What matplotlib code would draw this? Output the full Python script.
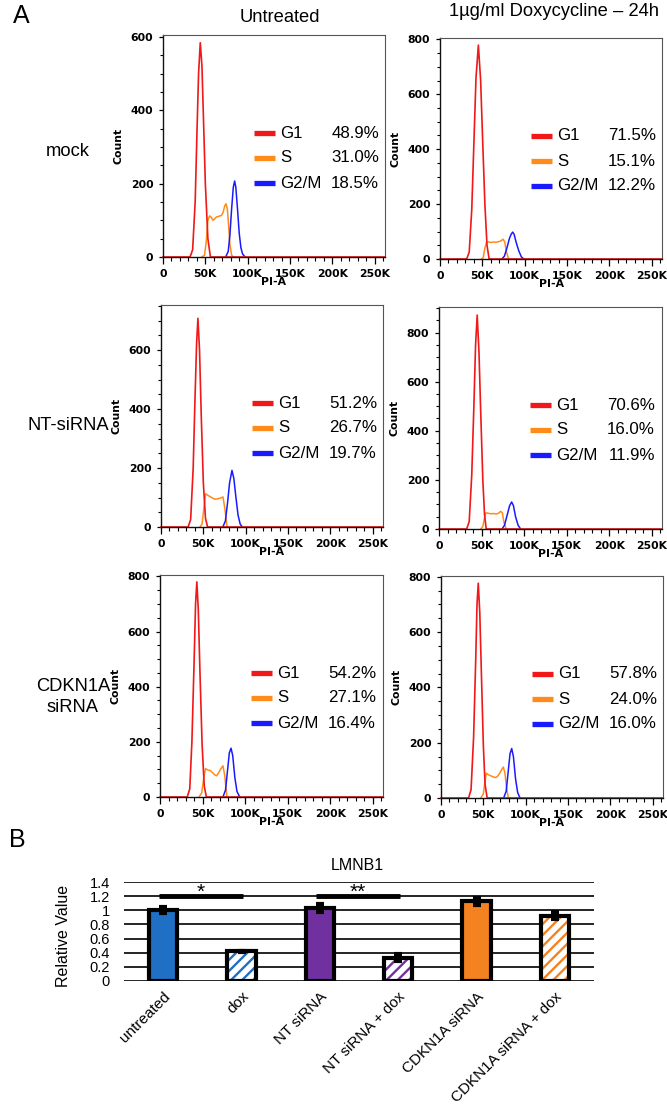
import matplotlib
matplotlib.use('Agg')
import matplotlib.pyplot as plt
import numpy as np
from matplotlib.lines import Line2D
from matplotlib.ticker import MultipleLocator, FuncFormatter

plt.rcParams['font.family'] = ['Liberation Sans', 'DejaVu Sans']
plt.rcParams['hatch.linewidth'] = 1.7

# ---------------- Panel A data (PI-A in thousands, counts) ----------------
col_titles = ['Untreated', '1µg/ml Doxycycline – 24h']
row_labels = ['mock', 'NT-siRNA', 'CDKN1A\nsiRNA']
phases = ['G1', 'S', 'G2/M']

# mock / untreated
mock_unt_g1_x = [0, 32, 35, 38, 40, 42, 44, 46, 48, 50, 53, 56, 262]
mock_unt_g1_y = [0, 0, 20, 150, 330, 500, 584, 520, 360, 200, 50, 0, 0]
mock_unt_s_x = [46, 49, 51, 53, 55, 57, 59, 61, 63, 65, 67, 69, 71, 73, 74.5, 76, 77.5, 79, 81, 83]
mock_unt_s_y = [0, 5, 40, 100, 112, 108, 100, 104, 109, 110, 112, 113, 122, 140, 145, 130, 85, 35, 5, 0]
mock_unt_g2_x = [74, 77, 79, 81, 83, 84.6, 86, 88, 90, 92, 94, 97]
mock_unt_g2_y = [0, 15, 60, 130, 190, 207, 190, 130, 65, 25, 8, 0]

# mock / dox
mock_dox_g1_x = [0, 31.5, 34.5, 37.5, 40, 42.5, 45.3, 48, 50.5, 53, 55.5, 58, 262]
mock_dox_g1_y = [0, 0, 25, 180, 420, 660, 779, 650, 420, 200, 50, 0, 0]
mock_dox_s_x = [49, 51, 53, 55, 57, 60, 63, 66, 69, 72, 74.5, 76.5, 78.5, 81]
mock_dox_s_y = [0, 5, 40, 62, 63, 60, 62, 61, 63, 66, 72, 62, 25, 0]
mock_dox_g2_x = [73, 76, 79, 82, 84, 85.8, 87.5, 90, 93, 96, 99]
mock_dox_g2_y = [0, 10, 40, 75, 90, 98, 90, 60, 30, 8, 0]

# NT-siRNA / untreated
nt_unt_g1_x = [0, 32, 35, 38, 40, 42, 43.6, 45.5, 47.5, 50, 52.5, 55, 262]
nt_unt_g1_y = [0, 0, 25, 200, 420, 620, 708, 600, 380, 150, 30, 0, 0]
nt_unt_s_x = [46, 48.5, 50.5, 52.7, 55, 58, 61, 64, 67, 70, 73.2, 75.5, 78]
nt_unt_s_y = [0, 10, 60, 113, 108, 103, 98, 94, 96, 98, 102, 60, 0]
nt_unt_g2_x = [73, 76, 78.5, 81, 83.8, 86, 88.5, 91, 93.5, 96]
nt_unt_g2_y = [0, 20, 80, 150, 192, 165, 100, 40, 10, 0]

# NT-siRNA / dox
nt_dox_g1_x = [0, 32.5, 35.5, 38.5, 41, 43, 44.9, 47, 49, 51.5, 53.5, 55.5, 262]
nt_dox_g1_y = [0, 0, 30, 220, 500, 750, 871, 720, 480, 200, 60, 0, 0]
nt_dox_s_x = [49, 51.5, 53.5, 55, 58, 61, 64, 67, 70, 72.4, 74.5, 76.5, 79]
nt_dox_s_y = [0, 10, 45, 66, 64, 62, 63, 61, 64, 72, 65, 25, 0]
nt_dox_g2_x = [74, 77, 80, 83, 85.4, 87.5, 90, 93, 96]
nt_dox_g2_y = [0, 15, 55, 95, 110, 95, 50, 15, 0]

# CDKN1A siRNA / untreated
cdk_unt_g1_x = [0, 32, 35, 37.5, 40, 41.8, 43.3, 45, 47, 49.5, 52, 54.5, 262]
cdk_unt_g1_y = [0, 0, 30, 200, 480, 700, 780, 680, 450, 190, 40, 0, 0]
cdk_unt_s_x = [46, 49, 51.5, 53.5, 56, 59, 62, 64.5, 66.5, 69, 71.5, 74, 76, 78.7]
cdk_unt_s_y = [0, 15, 70, 103, 98, 96, 88, 80, 77, 88, 102, 113, 80, 0]
cdk_unt_g2_x = [74, 77, 79.5, 81.5, 83.5, 85.5, 88, 90.5, 93.7]
cdk_unt_g2_y = [0, 25, 100, 160, 177, 150, 70, 20, 0]

# CDKN1A siRNA / dox
cdk_dox_g1_x = [0, 32.5, 35.5, 38.5, 41, 42.5, 44, 45.8, 47.8, 50, 52, 54.5, 262]
cdk_dox_g1_y = [0, 0, 30, 220, 500, 700, 777, 670, 440, 190, 50, 0, 0]
cdk_dox_s_x = [47, 50, 52, 53.5, 56, 59, 62, 64, 66.5, 69, 71.5, 73.6, 75.5, 77.5, 79.5]
cdk_dox_s_y = [0, 15, 60, 90, 84, 80, 76, 74, 77, 88, 102, 112, 90, 35, 0]
cdk_dox_g2_x = [74, 77, 79.5, 81.5, 83.5, 85.5, 88, 90.5, 93.3]
cdk_dox_g2_y = [0, 25, 100, 160, 179, 150, 70, 20, 0]

y_max = [605, 805, 753, 904, 805, 803]

pct_mock_unt = ['48.9%', '31.0%', '18.5%']
pct_mock_dox = ['71.5%', '15.1%', '12.2%']
pct_nt_unt = ['51.2%', '26.7%', '19.7%']
pct_nt_dox = ['70.6%', '16.0%', '11.9%']
pct_cdk_unt = ['54.2%', '27.1%', '16.4%']
pct_cdk_dox = ['57.8%', '24.0%', '16.0%']

# ---------------- Panel B data ----------------
bar_categories = ['untreated', 'dox', 'NT siRNA', 'NT siRNA + dox', 'CDKN1A siRNA', 'CDKN1A siRNA + dox']
bar_values = [1.00, 0.42, 1.03, 0.33, 1.13, 0.92]
bar_errors = [0.04, 0.01, 0.06, 0.05, 0.05, 0.05]
bar_hatched = [False, True, False, True, False, True]
bar_colors = ['#1f6fc5', '#1f6fc5', '#7030a0', '#7030a0', '#f58220', '#f58220']
sig_pairs = [(0, 1, '*'), (2, 3, '**')]
sig_level = 1.2

# ---------------- layout ----------------
W, H = 667, 1108
fig = plt.figure(figsize=(W / 100, H / 100), dpi=100)


def px_rect(l, t, r, b):
    return [l / W, 1 - b / H, (r - l) / W, (b - t) / H]


def fx(x):
    return x / W


def fy(y):
    return 1 - y / H


PHASE_COLORS = ['#f01818', '#ff8c1a', '#1a1aff']

panels = [
    (mock_unt_g1_x, mock_unt_g1_y, mock_unt_s_x, mock_unt_s_y, mock_unt_g2_x, mock_unt_g2_y, pct_mock_unt),
    (mock_dox_g1_x, mock_dox_g1_y, mock_dox_s_x, mock_dox_s_y, mock_dox_g2_x, mock_dox_g2_y, pct_mock_dox),
    (nt_unt_g1_x, nt_unt_g1_y, nt_unt_s_x, nt_unt_s_y, nt_unt_g2_x, nt_unt_g2_y, pct_nt_unt),
    (nt_dox_g1_x, nt_dox_g1_y, nt_dox_s_x, nt_dox_s_y, nt_dox_g2_x, nt_dox_g2_y, pct_nt_dox),
    (cdk_unt_g1_x, cdk_unt_g1_y, cdk_unt_s_x, cdk_unt_s_y, cdk_unt_g2_x, cdk_unt_g2_y, pct_cdk_unt),
    (cdk_dox_g1_x, cdk_dox_g1_y, cdk_dox_s_x, cdk_dox_s_y, cdk_dox_g2_x, cdk_dox_g2_y, pct_cdk_dox),
]
boxes = [(163, 35, 385, 257), (440, 38, 662, 259),
         (161, 305, 383, 527), (439, 307, 662, 529),
         (160, 575, 383, 797), (441, 576, 663, 798)]

tick_font = dict(family='DejaVu Sans', weight='bold', size=7.8)

for k, (box, pdata, ymax) in enumerate(zip(boxes, panels, y_max)):
    g1x, g1y, sx, sy, g2x, g2y, pcts = pdata
    ax = fig.add_axes(px_rect(*box))
    ax.plot(sx, sy, color=PHASE_COLORS[1], lw=1.1)
    ax.plot(g2x, g2y, color=PHASE_COLORS[2], lw=1.1)
    ax.plot(g1x, g1y, color=PHASE_COLORS[0], lw=1.2, clip_on=False)
    ax.set_xlim(0, 262.144)
    ax.set_ylim(0, ymax)
    ax.xaxis.set_major_locator(MultipleLocator(50))
    ax.xaxis.set_minor_locator(MultipleLocator(10))
    ax.yaxis.set_major_locator(MultipleLocator(200))
    ax.yaxis.set_minor_locator(MultipleLocator(50))
    ax.xaxis.set_major_formatter(FuncFormatter(lambda v, p: '0' if v == 0 else f'{int(v)}K'))
    ax.yaxis.set_major_formatter(FuncFormatter(lambda v, p: f'{int(v)}'))
    ax.tick_params(axis='x', which='major', direction='out', length=5, width=0.9, pad=3.5)
    ax.tick_params(axis='x', which='minor', direction='out', length=3, width=0.8)
    ax.tick_params(axis='y', which='major', direction='out', length=3, width=0.9, pad=4)
    ax.tick_params(axis='y', which='minor', direction='out', length=2, width=0.8)
    for lab in ax.get_xticklabels() + ax.get_yticklabels():
        lab.set_fontfamily('DejaVu Sans')
        lab.set_fontweight('bold')
        lab.set_fontsize(7.8)
    ax.set_xlabel('PI-A', labelpad=-1.5, **tick_font)
    ax.set_ylabel('Count', labelpad=5, **tick_font)
    for side in ['top', 'right']:
        ax.spines[side].set_color('#555555')
        ax.spines[side].set_linewidth(0.8)
    for side in ['left', 'bottom']:
        ax.spines[side].set_color('#111111')
        ax.spines[side].set_linewidth(1.0)

    l, t = box[0], box[1]
    for j in range(3):
        yy = t + 98 + 25 * j
        fig.add_artist(Line2D([fx(l + 91), fx(l + 112)], [fy(yy), fy(yy)],
                              color=PHASE_COLORS[j], lw=3.8, solid_capstyle='butt'))
        fig.text(fx(l + 117), fy(yy), phases[j], fontsize=12.2, ha='left', va='center')
        fig.text(fx(l + 216), fy(yy), pcts[j], fontsize=12.2, ha='right', va='center')

# Titles and labels
fig.text(fx(21), fy(16), 'A', fontsize=18, ha='center', va='center')
fig.text(fx(280), fy(17), col_titles[0], fontsize=13.2, ha='center', va='center')
fig.text(fx(554), fy(12), col_titles[1], fontsize=13.2, ha='center', va='center')
row_y = [152, 425, 697]
row_x = [68, 68, 73]
for lab, xx, yy in zip(row_labels, row_x, row_y):
    fig.text(fx(xx), fy(yy), lab, fontsize=13.2, ha='center', va='center', linespacing=1.3)

# ---------------- Panel B ----------------
fig.text(fx(17), fy(840), 'B', fontsize=18, ha='center', va='center')
fig.text(fx(357), fy(865), 'LMNB1', fontsize=11.5, ha='center', va='center')
fig.text(fx(63), fy(936), 'Relative Value', fontsize=11.5, ha='center', va='center', rotation=90)
axb = fig.add_axes(px_rect(124, 882, 594, 981))
xpos = np.arange(len(bar_categories))
bw = 0.36
for i, (v, c, h) in enumerate(zip(bar_values, bar_colors, bar_hatched)):
    if h:
        axb.bar(xpos[i], v, width=bw, facecolor='white', edgecolor=c, hatch='///', lw=0, zorder=2)
        axb.bar(xpos[i], v, width=bw, fill=False, edgecolor='black', lw=3, zorder=3)
    else:
        axb.bar(xpos[i], v, width=bw, color=c, edgecolor='black', lw=3, zorder=3)
axb.errorbar(xpos, bar_values, yerr=bar_errors, fmt='none', ecolor='black',
             elinewidth=3, capsize=3, capthick=3, zorder=5)
for a, b, star in sig_pairs:
    axb.plot([xpos[a] - 0.05, xpos[b] + 0.02], [sig_level, sig_level], color='black', lw=3.5,
             solid_capstyle='butt', zorder=4)
    axb.text((xpos[a] + xpos[b]) / 2 - 0.02, sig_level + 0.05, star, fontsize=15,
             ha='center', va='center')
axb.set_xlim(-0.5, 5.5)
axb.set_ylim(0, 1.4)
axb.set_yticks(np.arange(0, 1.41, 0.2))
axb.yaxis.set_major_formatter(FuncFormatter(lambda v, p: f'{round(v, 1):g}'))
axb.yaxis.grid(True, color='black', lw=1.2)
axb.set_axisbelow(True)
for s in axb.spines.values():
    s.set_visible(False)
axb.tick_params(axis='y', length=0, pad=10, labelsize=10.5)
axb.tick_params(axis='x', length=0, pad=6, labelsize=11)
axb.set_xticks(xpos)
axb.set_xticklabels(bar_categories, rotation=45, ha='right', va='top', rotation_mode='anchor')

fig.savefig('out.png', dpi=100)
